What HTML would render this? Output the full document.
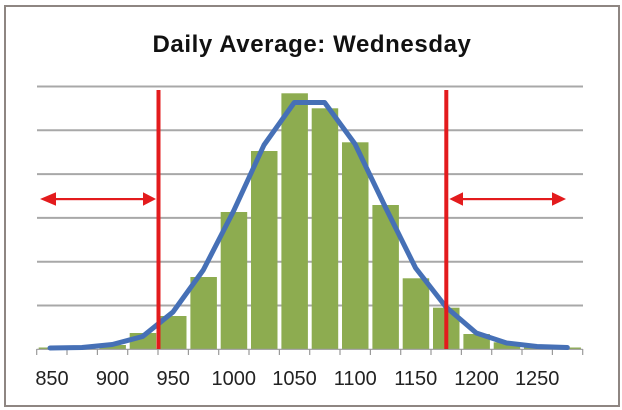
<!DOCTYPE html>
<html><head><meta charset="utf-8"><style>
html,body{margin:0;padding:0;background:#fff;}
svg{display:block;}
</style></head><body>
<svg width="622" height="410" viewBox="0 0 622 410" xmlns="http://www.w3.org/2000/svg">
<rect x="0" y="0" width="622" height="410" fill="#fff"/>
<rect x="5" y="6" width="614" height="400" fill="#fff" stroke="#8e8682" stroke-width="2"/>
<text x="312" y="52" text-anchor="middle" font-family="Liberation Sans, sans-serif" font-weight="bold" font-size="24" letter-spacing="0.6" fill="#111">Daily Average: Wednesday</text>
<g stroke="#a8a8a8" stroke-width="2">
<line x1="37" y1="86.5" x2="583" y2="86.5"/>
<line x1="37" y1="130.3" x2="583" y2="130.3"/>
<line x1="37" y1="174.1" x2="583" y2="174.1"/>
<line x1="37" y1="217.9" x2="583" y2="217.9"/>
<line x1="37" y1="261.7" x2="583" y2="261.7"/>
<line x1="37" y1="305.5" x2="583" y2="305.5"/>
</g>
<g fill="#8dac50">
<rect x="38.7" y="347.5" width="26.5" height="1.5"/>
<rect x="69" y="348" width="26.5" height="1"/>
<rect x="99.4" y="345" width="26.5" height="4"/>
<rect x="129.7" y="333" width="26.5" height="16"/>
<rect x="160" y="316" width="26.5" height="33"/>
<rect x="190.4" y="277" width="26.5" height="72"/>
<rect x="220.7" y="212" width="26.5" height="137"/>
<rect x="251" y="151" width="26.5" height="198"/>
<rect x="281.4" y="93.3" width="26.5" height="255.7"/>
<rect x="311.7" y="108.3" width="26.5" height="240.7"/>
<rect x="342" y="142.3" width="26.5" height="206.7"/>
<rect x="372.4" y="205" width="26.5" height="144"/>
<rect x="402.7" y="278.3" width="26.5" height="70.7"/>
<rect x="433" y="307.7" width="26.5" height="41.3"/>
<rect x="463.4" y="334" width="26.5" height="15"/>
<rect x="493.7" y="342.3" width="26.5" height="6.7"/>
<rect x="524" y="345.5" width="26.5" height="3.5"/>
<rect x="554.4" y="347.5" width="26.5" height="1.5"/>
</g>
<g stroke="#9a9a9a" stroke-width="1.2">
<line x1="36.7" y1="349.3" x2="582.7" y2="349.3"/>
<line x1="36.7" y1="349" x2="36.7" y2="355"/>
<line x1="67" y1="349" x2="67" y2="355"/>
<line x1="97.4" y1="349" x2="97.4" y2="355"/>
<line x1="127.7" y1="349" x2="127.7" y2="355"/>
<line x1="158" y1="349" x2="158" y2="355"/>
<line x1="188.4" y1="349" x2="188.4" y2="355"/>
<line x1="218.7" y1="349" x2="218.7" y2="355"/>
<line x1="249" y1="349" x2="249" y2="355"/>
<line x1="279.4" y1="349" x2="279.4" y2="355"/>
<line x1="309.7" y1="349" x2="309.7" y2="355"/>
<line x1="340" y1="349" x2="340" y2="355"/>
<line x1="370.4" y1="349" x2="370.4" y2="355"/>
<line x1="400.7" y1="349" x2="400.7" y2="355"/>
<line x1="431" y1="349" x2="431" y2="355"/>
<line x1="461.4" y1="349" x2="461.4" y2="355"/>
<line x1="491.7" y1="349" x2="491.7" y2="355"/>
<line x1="522" y1="349" x2="522" y2="355"/>
<line x1="552.4" y1="349" x2="552.4" y2="355"/>
<line x1="582.7" y1="349" x2="582.7" y2="355"/>
</g>
<polyline fill="none" stroke="#4670b6" stroke-width="5" stroke-linejoin="round" stroke-linecap="round"
points="50,348 82,347.5 112.3,344.5 142.6,336.5 173,312 203.3,270 233.6,211 264,145 294.3,102.5 324.6,102.5 355,144 385.3,207 415.6,268 446,307 476.3,333 506.6,343 537,346.5 567.3,347.5"/>
<g fill="#e31b1d">
<rect x="156.5" y="90" width="4" height="259"/>
<rect x="444.3" y="90" width="4" height="259"/>
<rect x="52" y="198" width="94" height="2.2"/>
<polygon points="40,199 56,192.3 56,205.7"/>
<polygon points="156,199 143,192.3 143,205.7"/>
<rect x="461" y="198" width="93" height="2.2"/>
<polygon points="449.3,199 463,192.3 463,205.7"/>
<polygon points="566,199 552,192.3 552,205.7"/>
</g>
<g font-family="Liberation Sans, sans-serif" font-size="20" fill="#222" text-anchor="middle">
<text x="52" y="385">850</text>
<text x="112.5" y="385">900</text>
<text x="173.2" y="385">950</text>
<text x="233.8" y="385">1000</text>
<text x="294.5" y="385">1050</text>
<text x="355.2" y="385">1100</text>
<text x="415.8" y="385">1150</text>
<text x="476.5" y="385">1200</text>
<text x="537.2" y="385">1250</text>
</g>
</svg>
</body></html>
